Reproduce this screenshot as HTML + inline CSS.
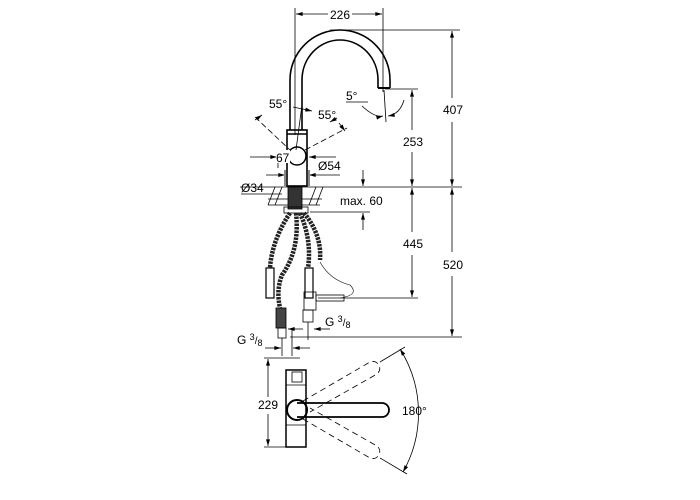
<!DOCTYPE html>
<html><head><style>
html,body{margin:0;padding:0;background:#fff;}
svg{display:block;font-family:"Liberation Sans",sans-serif;}
</style></head><body>
<svg width="700" height="500" viewBox="0 0 700 500" xmlns="http://www.w3.org/2000/svg">
<defs>
<marker id="a" viewBox="0 0 10 6" refX="10" refY="3" markerWidth="9" markerHeight="5" orient="auto-start-reverse"><path d="M0,0L10,3L0,6z" fill="#000"/></marker>
</defs>
<g stroke="#000" fill="none" stroke-width="0.8">
<line x1="295" y1="8" x2="295" y2="135"/>
<line x1="383" y1="8" x2="383" y2="92"/>
<line x1="296" y1="14" x2="328" y2="14" marker-start="url(#a)"/>
<line x1="352" y1="14" x2="382" y2="14" marker-end="url(#a)"/>
<path d="M290,130 L290,80 A50,50 0 0 1 390,80 L390,88" stroke-width="1.6"/>
<path d="M302,130 L302,80 A38,40 0 0 1 378,80 L378,88" stroke-width="1.6"/>
<line x1="378" y1="88" x2="390" y2="88" stroke-width="2"/>
<line x1="330" y1="30" x2="460" y2="30"/>
<line x1="452" y1="31" x2="452" y2="98" marker-start="url(#a)"/>
<line x1="452" y1="122" x2="452" y2="186" marker-end="url(#a)"/>
<line x1="385" y1="89" x2="418" y2="89"/>
<line x1="412" y1="90" x2="412" y2="130" marker-start="url(#a)"/>
<line x1="412" y1="152" x2="412" y2="186" marker-end="url(#a)"/>
<line x1="240" y1="187" x2="462" y2="187"/>
<line x1="384" y1="90" x2="386" y2="122"/>
<path d="M362,106 Q375,118 383,116" marker-end="url(#a)"/>
<path d="M404,100 Q400,114 388,116" marker-end="url(#a)"/>
<line x1="346" y1="102" x2="368" y2="102"/>
<rect x="287" y="130" width="20" height="56" stroke-width="1.6"/>
<line x1="287" y1="134" x2="307" y2="134" stroke-width="1.5"/>
<circle cx="297" cy="156" r="9" stroke-width="1.5"/>
<line x1="302" y1="105" x2="296" y2="150"/>
<path d="M293,107 L312,111" marker-end="url(#a)"/>
<line x1="255" y1="117" x2="290" y2="150" stroke-dasharray="6,3"/>
<line x1="262" y1="115" x2="255" y2="120" marker-start="url(#a)"/>
<line x1="305" y1="150" x2="347" y2="128" stroke-dasharray="6,3"/>
<line x1="339" y1="123" x2="345" y2="131" marker-end="url(#a)"/>
<line x1="330" y1="122" x2="337" y2="118" marker-start="url(#a)"/>
<line x1="278" y1="150" x2="278" y2="168"/>
<line x1="250" y1="157" x2="277" y2="157" marker-end="url(#a)"/>
<line x1="336" y1="157" x2="309" y2="157" marker-end="url(#a)"/>
<line x1="266" y1="175" x2="285" y2="175" marker-end="url(#a)"/>
<line x1="340" y1="175" x2="309" y2="175" marker-end="url(#a)"/>
<line x1="285" y1="170" x2="285" y2="186" stroke="#888" stroke-width="2"/>
<line x1="309" y1="170" x2="309" y2="186" stroke="#888" stroke-width="2"/>
<g stroke-width="0.8">
<line x1="241" y1="194" x2="282" y2="194"/>
<line x1="268" y1="199" x2="322" y2="199"/>
<line x1="268" y1="205" x2="320" y2="205"/>
<line x1="275" y1="187" x2="268" y2="205"/><line x1="282" y1="187" x2="275" y2="205"/>
<line x1="316" y1="187" x2="309" y2="205"/><line x1="323" y1="187" x2="316" y2="205"/>
</g>
<rect x="288" y="187" width="14" height="22" fill="#333"/>
<rect x="284" y="207" width="24" height="6"/>
<line x1="363" y1="170" x2="363" y2="186" marker-end="url(#a)"/>
<line x1="363" y1="230" x2="363" y2="213" marker-end="url(#a)"/>
<line x1="310" y1="212" x2="370" y2="212"/>
<line x1="412" y1="188" x2="412" y2="232" marker-start="url(#a)"/>
<line x1="412" y1="255" x2="412" y2="297" marker-end="url(#a)"/>
<line x1="318" y1="298" x2="418" y2="298"/>
<line x1="452" y1="188" x2="452" y2="252" marker-start="url(#a)"/>
<line x1="452" y1="276" x2="452" y2="336" marker-end="url(#a)"/>
<line x1="290" y1="337" x2="462" y2="337"/>
<g stroke="#222" stroke-width="4.5" stroke-dasharray="2.5,1">
<path d="M290,213 Q272,240 270,268"/>
<path d="M296,213 Q300,250 282,275 Q276,290 280,308"/>
<path d="M300,213 Q312,240 308,268"/>
<path d="M304,213 Q322,235 320,260"/>
</g>
<path d="M320,262 Q330,280 350,285 Q360,295 340,298" stroke-width="0.6"/>
<rect x="266" y="268" width="8" height="30" stroke-width="1.2"/>
<rect x="305" y="268" width="8" height="30" stroke-width="1.2"/>
<rect x="304" y="292" width="12" height="18"/>
<rect x="316" y="295" width="28" height="6"/>
<rect x="303" y="310" width="10" height="12"/>
<line x1="308" y1="322" x2="308" y2="340"/>
<rect x="276" y="308" width="10" height="20" fill="#444"/>
<rect x="278" y="328" width="8" height="10"/>
<line x1="282" y1="338" x2="282" y2="356"/>
<line x1="292" y1="330" x2="292" y2="356"/>
<line x1="288" y1="329" x2="303" y2="329" marker-start="url(#a)"/>
<line x1="330" y1="329" x2="314" y2="329" marker-end="url(#a)"/>
<line x1="265" y1="348" x2="281" y2="348" marker-end="url(#a)"/>
<line x1="310" y1="348" x2="293" y2="348" marker-end="url(#a)"/>
<rect x="286" y="370" width="20" height="77" stroke-width="1.5"/>
<line x1="286" y1="385" x2="306" y2="385"/>
<line x1="286" y1="425" x2="306" y2="425"/>
<rect x="292" y="372" width="10" height="10"/>
<circle cx="297" cy="410" r="10" stroke-width="2"/>
<path d="M297,403 L382,403 A7,7 0 0 1 382,417 L297,417" stroke-width="1.8"/>
<g stroke-dasharray="6,4">
<path d="M303,401 L370,362 A7,7 0 0 1 377,374 L310,412"/>
<path d="M303,419 L370,458 A7,7 0 0 0 377,446 L310,408"/>
</g>
<path d="M400,349 A120,120 0 0 1 403,472" marker-start="url(#a)" marker-end="url(#a)"/>
<line x1="380" y1="362" x2="405" y2="347"/>
<line x1="380" y1="458" x2="407" y2="474"/>
<line x1="264" y1="358" x2="300" y2="358"/>
<line x1="264" y1="447" x2="290" y2="447"/>
<line x1="268" y1="359" x2="268" y2="397" marker-start="url(#a)"/>
<line x1="268" y1="414" x2="268" y2="446" marker-end="url(#a)"/>
</g>
<g font-size="12" fill="#000">
<rect x="328" y="8" width="24" height="12" fill="#fff"/>
<text x="340" y="19" text-anchor="middle">226</text>
<rect x="440" y="100" width="26" height="18" fill="#fff"/>
<text x="453" y="114" text-anchor="middle">407</text>
<text x="413" y="146" text-anchor="middle">253</text>
<rect x="440" y="255" width="26" height="18" fill="#fff"/>
<text x="453" y="269" text-anchor="middle">520</text>
<text x="413" y="248" text-anchor="middle">445</text>
<text x="346" y="100">5°</text>
<text x="269" y="108">55°</text>
<text x="318" y="119">55°</text>
<rect x="276" y="150" width="14" height="13" fill="#fff"/>
<text x="276" y="162">67</text>
<text x="318" y="170">Ø54</text>
<text x="241" y="192">Ø34</text>
<text x="340" y="205">max. 60</text>
<text x="237" y="344">G <tspan font-size="9" dy="-4">3</tspan><tspan font-size="10" dy="4">/</tspan><tspan font-size="9" dy="2">8</tspan></text>
<text x="325" y="326">G <tspan font-size="9" dy="-4">3</tspan><tspan font-size="10" dy="4">/</tspan><tspan font-size="9" dy="2">8</tspan></text>
<rect x="255" y="398" width="26" height="15" fill="#fff"/>
<text x="268" y="409" text-anchor="middle">229</text>
<text x="402" y="415">180°</text>
</g>
</svg>
</body></html>
